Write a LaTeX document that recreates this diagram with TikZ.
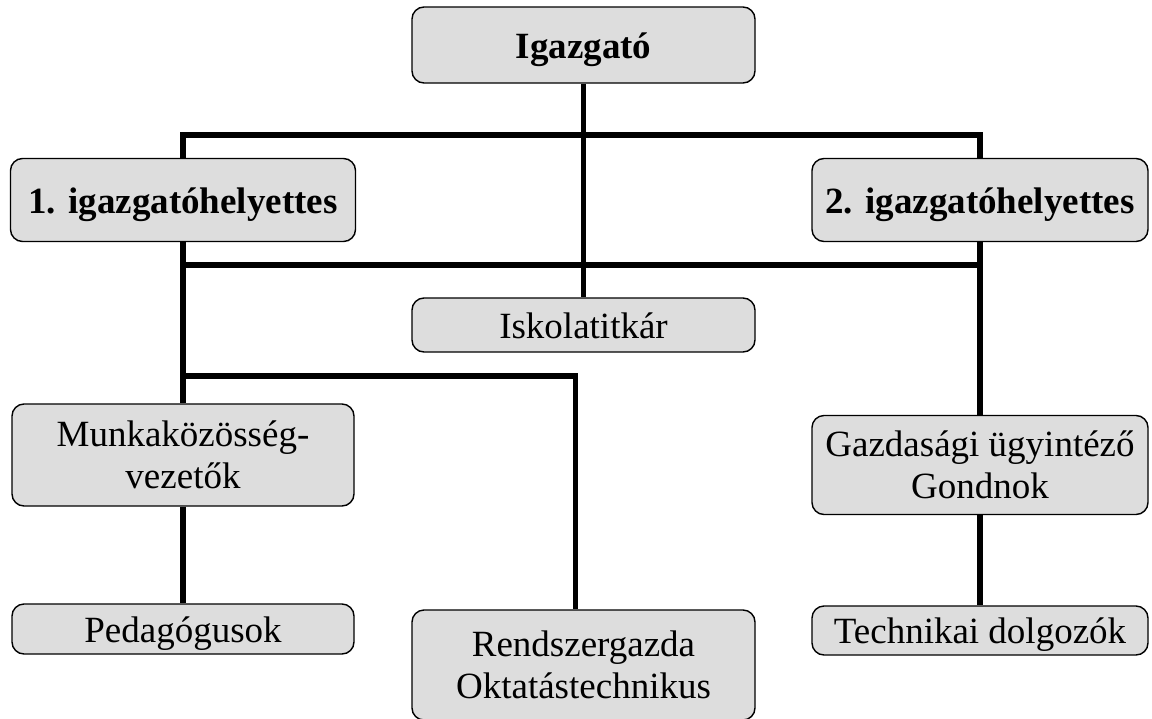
\documentclass[tikz,border=0pt]{standalone}
\usepackage{fontspec}
\setmainfont{Liberation Serif}
\usetikzlibrary{backgrounds}
\definecolor{boxgray}{RGB}{221,221,221}
\tikzset{
  box/.style={draw=black, line width=1.4pt, fill=boxgray, rounded corners=12pt,
    inner sep=0pt, align=center, font=\fontsize{37pt}{42pt}\selectfont},
  onel/.style={text height=33pt, text depth=7pt},
  bold/.style={font=\fontsize{37pt}{42pt}\selectfont\bfseries},
  conn/.style={draw=black, line width=5.5pt, line join=miter}
}
\begin{document}
\begin{tikzpicture}
\clip (0,0) rectangle (1152pt,-718pt);
% bus coordinates
\coordinate (b1) at (583.5pt,-135pt);
\coordinate (b2) at (583.5pt,-265pt);
\coordinate (b3) at (183pt,-376pt);
% boxes
\node[box, bold, onel, minimum width=343pt, minimum height=76pt] (ig) at (583.5pt,-45pt) {Igazgató};
\node[box, bold, onel, minimum width=345pt, minimum height=83pt] (d1) at (183pt,-200pt) {1. igazgatóhelyettes};
\node[box, bold, onel, minimum width=336pt, minimum height=83pt] (d2) at (980pt,-200pt) {2. igazgatóhelyettes};
\node[box, onel, minimum width=343pt, minimum height=54pt] (isk) at (583.5pt,-325pt) {Iskolatitkár};
\node[box, minimum width=342pt, minimum height=102pt] (mk) at (183pt,-455pt) {Munkaközösség-\\vezetők};
\node[box, minimum width=336pt, minimum height=99pt] (gz) at (980pt,-465pt) {Gazdasági ügyintéző\\Gondnok};
\node[box, onel, minimum width=342pt, minimum height=50pt] (pe) at (183pt,-629pt) {Pedagógusok};
\node[box, onel, minimum width=336pt, minimum height=49pt] (te) at (980pt,-630.5pt) {Technikai dolgozók};
\node[box, minimum width=343pt, minimum height=110pt] (rg) at (583.5pt,-665pt) {Rendszergazda\\Oktatástechnikus};
% connectors
\begin{scope}[on background layer]
\draw[conn] (ig.south) -- (isk.north);
\draw[conn] (d1.north) |- (b1) -| (d2.north);
\draw[conn] (d1.south) -- (mk.north);
\draw[conn] (d2.south) -- (gz.north);
\draw[conn] (d1.south |- b2) -- (d2.south |- b2);
\draw[conn] (b3) -| ([xshift=-8pt]rg.north);
\draw[conn] (mk.south) -- (pe.north);
\draw[conn] (gz.south) -- (te.north);
\end{scope}
\end{tikzpicture}
\end{document}
